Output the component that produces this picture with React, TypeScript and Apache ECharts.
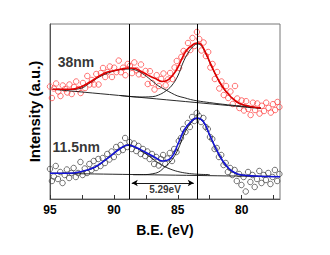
import React, { useEffect, useRef } from "react";
import * as echarts from "echarts";

// x: binding energy (eV), y: intensity (arbitrary units)
const xTickLabels = [95, 90, 85, 80];
const xTickMarks = [95, 92.5, 90, 87.5, 85, 82.5, 80, 77.5];
const peakPositions = [88.82, 83.5];
const splitting = { from: 88.6, to: 83.75, level: 16, text: "5.29eV", textX: 86.0, textY: 10 };
const sampleLabels = [
  { name: "38nm", x: 94.4, y: 137 },
  { name: "11.5nm", x: 94.8, y: 52 },
];

const redScatter = [
  [95.0, 112.5], [94.85, 101], [94.7, 110.5], [94.52, 115.5], [94.35, 107.5], [94.18, 103], [94.0, 113.5],
  [93.82, 110], [93.65, 106.5], [93.48, 114.5], [93.3, 105], [93.12, 112], [92.95, 117.5], [92.78, 110],
  [92.6, 106], [92.42, 116], [92.25, 111], [92.08, 123], [91.9, 114.5], [91.72, 119], [91.55, 114.5],
  [91.38, 125], [91.2, 114.5], [91.02, 126], [90.85, 131], [90.68, 122], [90.5, 127], [90.32, 132.5],
  [90.15, 122], [89.98, 131.3], [89.8, 126.9], [89.62, 138.4], [89.45, 126.8], [89.28, 131.3], [89.1, 123.8],
  [88.92, 135], [88.75, 133], [88.58, 125.9], [88.4, 136.6], [88.22, 128.8], [88.05, 124.7], [87.88, 134.5],
  [87.7, 124.2], [87.52, 128], [87.35, 115], [87.18, 127.8], [87.0, 116], [86.82, 109.5], [86.65, 123.8],
  [86.48, 113], [86.3, 120], [86.12, 125.5], [85.95, 113.7], [85.78, 119.5], [85.6, 126], [85.42, 120],
  [85.25, 131.5], [85.08, 138], [84.9, 131], [84.72, 142], [84.55, 148], [84.38, 145.5], [84.2, 156],
  [84.02, 149], [83.85, 161], [83.68, 153], [83.5, 167], [83.32, 160], [83.15, 148.5], [82.98, 156.5],
  [82.8, 143], [82.62, 147], [82.45, 131.5], [82.28, 135], [82.1, 120], [81.92, 127], [81.75, 110.5],
  [81.58, 117.5], [81.4, 104], [81.22, 113], [81.05, 101], [80.88, 107.5], [80.7, 95], [80.52, 113],
  [80.35, 100.5], [80.18, 91], [80.0, 98.5], [79.82, 88.5], [79.65, 97.8], [79.48, 90], [79.3, 84],
  [79.12, 96.3], [78.95, 89], [78.78, 95.5], [78.6, 85.4], [78.42, 93.2], [78.25, 88], [78.08, 96.3],
  [77.9, 91.1], [77.72, 86.4], [77.55, 94.8], [77.38, 89], [77.2, 97], [77.05, 92],
];

const redFit = [
  [94.8, 109.7], [94.0, 109.7], [93.2, 109.9], [92.6, 112], [92.0, 116], [91.5, 120], [91.0, 124],
  [90.5, 127], [89.9, 128.5], [89.4, 130], [88.9, 131], [88.4, 130.7], [88.0, 128.5], [87.6, 125.7],
  [87.2, 123], [86.8, 120.7], [86.2, 117.5], [85.7, 119.7], [85.1, 129], [84.6, 142.3], [84.3, 149],
  [83.9, 153.5], [83.5, 156], [83.2, 155], [82.8, 145.7], [82.15, 127.3], [81.5, 112.3], [80.85, 102.3],
  [80.2, 95.7], [79.2, 92.3], [78.5, 91],
];
const redBaseline = [[94.8, 109.7], [78.5, 90.5]];
const redPeakA = [
  [94.8, 109.7], [93.5, 109.5], [92.5, 111], [92.0, 115], [91.0, 123], [90.0, 128], [89.4, 129.5],
  [88.8, 130], [88.2, 128.5], [87.6, 124], [87.0, 118], [86.5, 113], [86.0, 109.5], [85.5, 106],
  [85.0, 103], [84.5, 101.3], [84.0, 99.5], [83.5, 98.2], [82.5, 96.4], [81.5, 94.8], [80.0, 92.8],
  [78.5, 91],
];
const redPeakB = [
  [89.5, 103.5], [88.0, 102], [87.0, 102.3], [86.5, 104], [86.0, 107.5], [85.5, 113], [85.0, 123],
  [84.6, 136], [84.2, 146], [83.8, 152.5], [83.5, 155], [83.2, 154], [82.8, 145], [82.15, 127],
  [81.5, 112], [80.85, 102], [80.2, 95.5], [79.2, 92.2], [78.5, 91],
];

const blackScatter = [
  [95.0, 30], [94.85, 18], [94.7, 22.5], [94.55, 33], [94.38, 20], [94.2, 27], [94.02, 16], [93.85, 24],
  [93.68, 29.5], [93.5, 21], [93.32, 26], [93.15, 31], [92.98, 22], [92.8, 26], [92.62, 37], [92.45, 24],
  [92.28, 30.5], [92.1, 26], [91.92, 35], [91.75, 29], [91.58, 38], [91.4, 31], [91.22, 40], [91.05, 33],
  [90.88, 41], [90.7, 36], [90.52, 45], [90.35, 39.5], [90.18, 47.5], [90.0, 42], [89.82, 52], [89.65, 47],
  [89.48, 54], [89.3, 49], [89.12, 61], [88.95, 52], [88.78, 57], [88.6, 50], [88.42, 55.5], [88.25, 48],
  [88.08, 53], [87.9, 45], [87.72, 50], [87.55, 43], [87.38, 47.5], [87.2, 40], [87.02, 45], [86.85, 35],
  [86.68, 42], [86.5, 33.5], [86.32, 40], [86.15, 44], [85.98, 35], [85.8, 40.5], [85.62, 46], [85.45, 38],
  [85.28, 50], [85.1, 47], [84.92, 58], [84.75, 61], [84.58, 70], [84.4, 67], [84.22, 76], [84.05, 72],
  [83.88, 82], [83.7, 78], [83.52, 86], [83.35, 83], [83.18, 77], [83.0, 81], [82.82, 72], [82.65, 70],
  [82.48, 62], [82.3, 60], [82.12, 50], [81.95, 51], [81.78, 42], [81.6, 44], [81.42, 34], [81.25, 36],
  [81.08, 27], [80.9, 31], [80.72, 24], [80.55, 29], [80.38, 18], [80.2, 25], [80.02, 14], [79.85, 22],
  [79.68, 7.5], [79.5, 27], [79.32, 17], [79.15, 24], [78.98, 12], [78.8, 20], [78.62, 28], [78.45, 16],
  [78.28, 24], [78.1, 19], [77.92, 26], [77.75, 15], [77.58, 22], [77.4, 29], [77.22, 18], [77.05, 25],
];

const blueFit = [
  [95.0, 25.7], [93.6, 25.7], [92.6, 27.3], [91.5, 31.7], [90.5, 40.7], [89.5, 50.5], [88.9, 54],
  [88.4, 52.3], [87.6, 47.3], [86.8, 41.7], [86.2, 38], [85.5, 41.5], [85.0, 54.5], [84.5, 69],
  [84.0, 77], [83.5, 81], [83.0, 77.5], [82.5, 64], [82.0, 50], [81.5, 38.5], [81.0, 30.5], [80.5, 26],
  [80.0, 24], [79.0, 23], [77.0, 22.3],
];
const blackBaseline = [[95.0, 25.7], [77.0, 22.3]];
const blackPeakA = [
  [95.0, 25.7], [93.6, 25.7], [92.6, 27.2], [91.5, 31.5], [90.5, 40.5], [89.5, 50.3], [88.9, 53.5],
  [88.4, 52], [87.6, 46], [86.8, 38.5], [86.2, 33.5], [85.6, 30], [85.0, 27.5], [84.3, 25.8],
  [83.5, 24.8], [82.5, 24.4],
];
const blackPeakB = [
  [88.5, 24.3], [87.5, 24.4], [87.0, 25.2], [86.5, 27], [86.0, 32.3], [85.5, 38.5], [85.0, 49],
  [84.5, 65], [84.0, 75.5], [83.5, 80.5], [83.0, 77], [82.5, 63.5], [82.0, 49.5], [81.5, 38],
  [81.0, 30], [80.5, 25.8], [80.0, 23.8], [79.0, 22.9], [78.0, 22.6],
];

const FONT = "Arial, 'Liberation Sans', sans-serif";

export default function App() {
  const ref = useRef<HTMLDivElement>(null);
  useEffect(() => {
    if (!ref.current) return;
    const chart = echarts.init(ref.current, null, { renderer: "svg" });
    const thin = (data: number[][]) => ({
      type: "line",
      data,
      smooth: 0.4,
      symbol: "none",
      lineStyle: { color: "#111", width: 0.9 },
      z: 3,
    });
    chart.setOption({
      animation: false,
      grid: { left: 50, right: 50, top: 24, bottom: 56, show: true, borderColor: "#777", borderWidth: 1 },
      xAxis: {
        type: "value",
        min: 77,
        max: 95,
        inverse: true,
        name: "B.E. (eV)",
        nameLocation: "middle",
        nameGap: 24,
        nameTextStyle: { fontFamily: FONT, fontWeight: "bold", fontSize: 14, color: "#000" },
        axisLine: { show: true, lineStyle: { color: "#555", width: 1 } },
        axisTick: { show: true, inside: true, length: 4, customValues: xTickMarks, lineStyle: { color: "#333" } },
        axisLabel: {
          customValues: xTickLabels,
          fontFamily: FONT,
          fontWeight: "bold",
          fontSize: 12,
          color: "#000",
          margin: 5,
        },
        splitLine: { show: false },
      },
      yAxis: {
        type: "value",
        min: 0,
        max: 175,
        name: "Intensity (a.u.)",
        nameLocation: "middle",
        nameGap: 8,
        nameTextStyle: { fontFamily: FONT, fontWeight: "bold", fontSize: 15, color: "#000" },
        axisLine: { show: true, lineStyle: { color: "#555", width: 1 } },
        axisTick: { show: false },
        axisLabel: { show: false },
        splitLine: { show: false },
      },
      series: [
        {
          type: "scatter",
          data: redScatter,
          symbol: "circle",
          symbolSize: 5.5,
          itemStyle: { color: "rgba(0,0,0,0)", borderColor: "#ff3b3b", borderWidth: 0.9 },
          z: 2,
        },
        {
          type: "scatter",
          data: blackScatter,
          symbol: "circle",
          symbolSize: 5.5,
          itemStyle: { color: "rgba(0,0,0,0)", borderColor: "#3a3a3a", borderWidth: 0.9 },
          z: 2,
        },
        thin(redBaseline),
        thin(redPeakA),
        thin(redPeakB),
        thin(blackBaseline),
        thin(blackPeakA),
        thin(blackPeakB),
        {
          type: "line",
          data: redFit,
          smooth: 0.4,
          symbol: "none",
          lineStyle: { color: "#e00000", width: 1.6 },
          z: 4,
        },
        {
          type: "line",
          data: blueFit,
          smooth: 0.4,
          symbol: "none",
          lineStyle: { color: "#1414d8", width: 1.6 },
          z: 4,
          markLine: {
            silent: true,
            symbol: "none",
            label: { show: false },
            lineStyle: { color: "#000", width: 1, type: "solid" },
            data: peakPositions.map((p) => ({ xAxis: p })),
          },
        },
        {
          type: "line",
          data: [],
          markLine: {
            silent: true,
            symbol: ["arrow", "arrow"],
            symbolSize: [5, 6],
            label: { show: false },
            lineStyle: { color: "#000", width: 0.9, type: "solid" },
            data: [[{ coord: [splitting.from, splitting.level] }, { coord: [splitting.to, splitting.level] }]],
          },
        },
        {
          type: "scatter",
          symbolSize: 0,
          data: [[splitting.textX, splitting.textY]],
          label: {
            show: true,
            position: "inside",
            formatter: splitting.text,
            fontFamily: FONT,
            fontWeight: "bold",
            fontSize: 10,
            color: "#000",
          },
          z: 6,
        },
        {
          type: "scatter",
          symbolSize: 0,
          data: sampleLabels.map((s) => ({ value: [s.x, s.y], name: s.name })),
          label: {
            show: true,
            position: "right",
            distance: 0,
            formatter: (p: any) => p.name,
            fontFamily: FONT,
            fontWeight: "bold",
            fontSize: 14,
            color: "#000",
          },
          z: 6,
        },
      ],
    });
    return () => chart.dispose();
  }, []);
  return <div ref={ref} style={{ width: 330, height: 255, position: "absolute", left: 0, top: 0 }} />;
}
